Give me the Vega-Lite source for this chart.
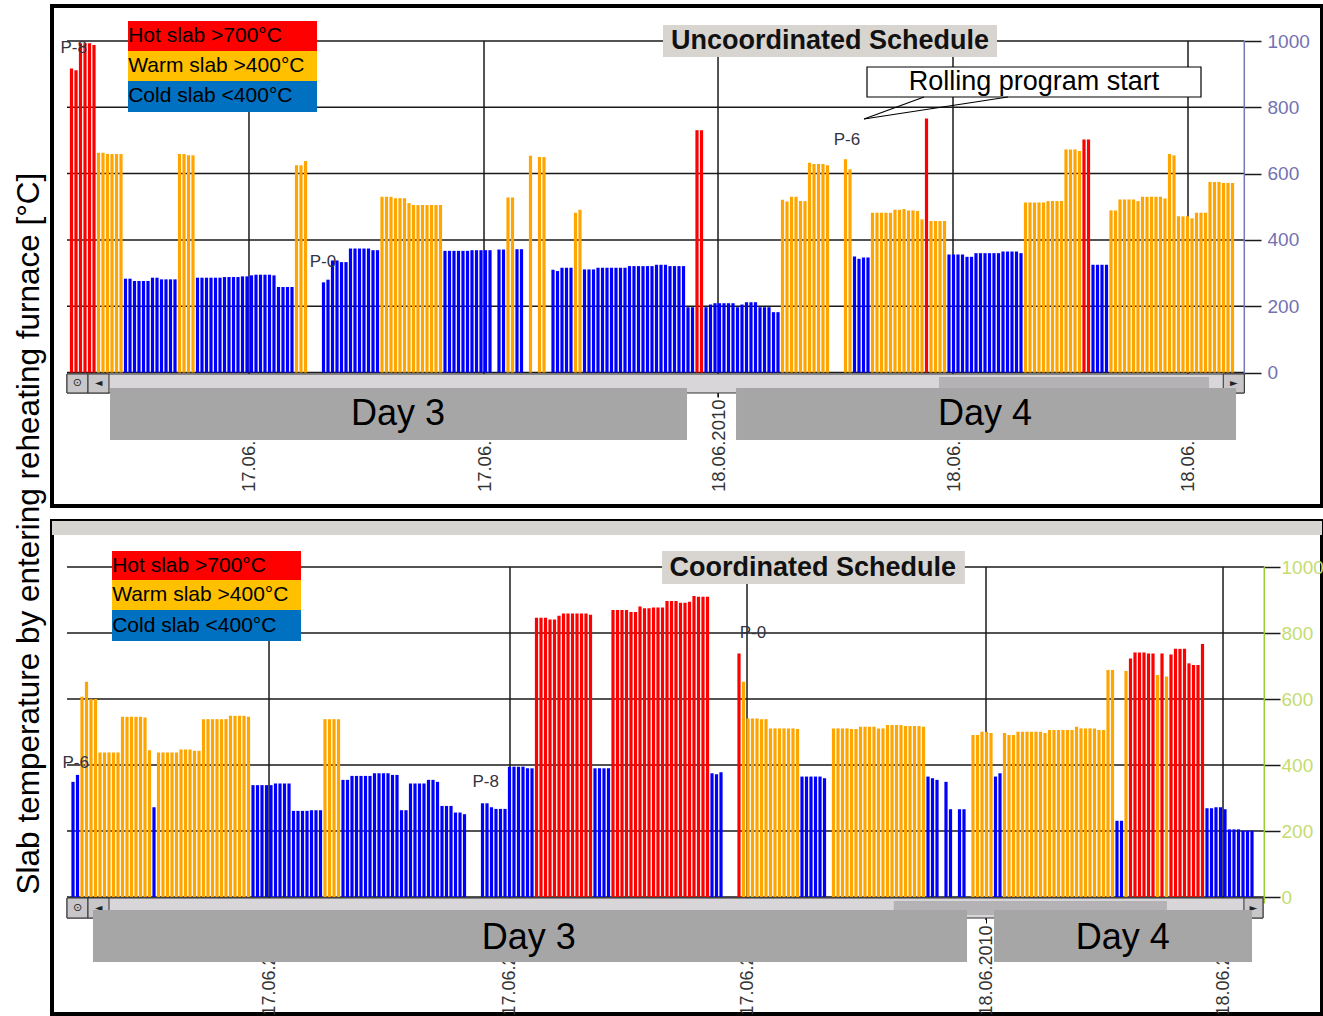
{
"$schema":"https://vega.github.io/schema/vega-lite/v6.json",
"background":"white",
"padding":{"left":13,"top":4,"right":0,"bottom":0},
"title":{"text":"Slab temperature by entering reheating furnace [°C]","orient":"left","anchor":"middle","fontSize":31.5,"fontWeight":"normal","font":"Liberation Sans","color":"#000000","offset":5,"dx":-23},
"config":{"view":{"stroke":"#000000","strokeWidth":4},"font":"Liberation Sans"},
"bounds":"flush",
"spacing":15,
"datasets":{
"top":[
{"n":1,"t":917,"c":"H"},{"n":2,"t":912,"c":"H"},{"n":3,"t":993,"c":"H"},{"n":4,"t":993,"c":"H"},{"n":5,"t":993,"c":"H"},{"n":6,"t":988,"c":"H"},
{"n":7,"t":663,"c":"W"},{"n":8,"t":663,"c":"W"},{"n":9,"t":659,"c":"W"},{"n":10,"t":659,"c":"W"},{"n":11,"t":659,"c":"W"},{"n":12,"t":659,"c":"W"},
{"n":13,"t":283,"c":"C"},{"n":14,"t":283,"c":"C"},{"n":15,"t":276,"c":"C"},{"n":16,"t":276,"c":"C"},{"n":17,"t":276,"c":"C"},{"n":18,"t":276,"c":"C"},{"n":19,"t":286,"c":"C"},{"n":20,"t":286,"c":"C"},{"n":21,"t":281,"c":"C"},{"n":22,"t":281,"c":"C"},{"n":23,"t":281,"c":"C"},{"n":24,"t":281,"c":"C"},
{"n":25,"t":659,"c":"W"},{"n":26,"t":659,"c":"W"},{"n":27,"t":655,"c":"W"},{"n":28,"t":655,"c":"W"},
{"n":29,"t":286,"c":"C"},{"n":30,"t":286,"c":"C"},{"n":31,"t":286,"c":"C"},{"n":32,"t":286,"c":"C"},{"n":33,"t":286,"c":"C"},{"n":34,"t":286,"c":"C"},{"n":35,"t":288,"c":"C"},{"n":36,"t":288,"c":"C"},{"n":37,"t":288,"c":"C"},{"n":38,"t":288,"c":"C"},{"n":39,"t":290,"c":"C"},{"n":40,"t":290,"c":"C"},{"n":41,"t":293,"c":"C"},{"n":42,"t":295,"c":"C"},{"n":43,"t":295,"c":"C"},{"n":44,"t":295,"c":"C"},{"n":45,"t":295,"c":"C"},{"n":46,"t":293,"c":"C"},{"n":47,"t":258,"c":"C"},{"n":48,"t":258,"c":"C"},{"n":49,"t":258,"c":"C"},{"n":50,"t":258,"c":"C"},
{"n":51,"t":625,"c":"W"},{"n":52,"t":625,"c":"W"},{"n":53,"t":638,"c":"W"},
{"n":57,"t":272,"c":"C"},{"n":58,"t":280,"c":"C"},{"n":59,"t":338,"c":"C"},{"n":60,"t":338,"c":"C"},{"n":61,"t":333,"c":"C"},{"n":62,"t":333,"c":"C"},{"n":63,"t":374,"c":"C"},{"n":64,"t":374,"c":"C"},{"n":65,"t":374,"c":"C"},{"n":66,"t":374,"c":"C"},{"n":67,"t":374,"c":"C"},{"n":68,"t":369,"c":"C"},{"n":69,"t":369,"c":"C"},
{"n":70,"t":530,"c":"W"},{"n":71,"t":530,"c":"W"},{"n":72,"t":530,"c":"W"},{"n":73,"t":526,"c":"W"},{"n":74,"t":526,"c":"W"},{"n":75,"t":526,"c":"W"},{"n":76,"t":511,"c":"W"},{"n":77,"t":505,"c":"W"},{"n":78,"t":505,"c":"W"},{"n":79,"t":505,"c":"W"},{"n":80,"t":505,"c":"W"},{"n":81,"t":505,"c":"W"},{"n":82,"t":505,"c":"W"},{"n":83,"t":505,"c":"W"},
{"n":84,"t":367,"c":"C"},{"n":85,"t":367,"c":"C"},{"n":86,"t":367,"c":"C"},{"n":87,"t":367,"c":"C"},{"n":88,"t":367,"c":"C"},{"n":89,"t":367,"c":"C"},{"n":90,"t":369,"c":"C"},{"n":91,"t":369,"c":"C"},{"n":92,"t":369,"c":"C"},{"n":93,"t":369,"c":"C"},{"n":94,"t":369,"c":"C"},{"n":96,"t":371,"c":"C"},{"n":97,"t":371,"c":"C"},
{"n":98,"t":528,"c":"W"},{"n":99,"t":528,"c":"W"},{"n":100,"t":372,"c":"C"},{"n":101,"t":372,"c":"C"},{"n":103,"t":654,"c":"W"},{"n":105,"t":650,"c":"W"},{"n":106,"t":650,"c":"W"},
{"n":108,"t":310,"c":"C"},{"n":109,"t":306,"c":"C"},{"n":110,"t":316,"c":"C"},{"n":111,"t":316,"c":"C"},{"n":112,"t":316,"c":"C"},{"n":113,"t":482,"c":"W"},{"n":114,"t":491,"c":"W"},{"n":115,"t":311,"c":"C"},{"n":116,"t":311,"c":"C"},{"n":117,"t":311,"c":"C"},
{"n":118,"t":316,"c":"C"},{"n":119,"t":316,"c":"C"},{"n":120,"t":316,"c":"C"},{"n":121,"t":316,"c":"C"},{"n":122,"t":316,"c":"C"},{"n":123,"t":316,"c":"C"},{"n":124,"t":316,"c":"C"},{"n":125,"t":321,"c":"C"},{"n":126,"t":321,"c":"C"},{"n":127,"t":321,"c":"C"},{"n":128,"t":321,"c":"C"},{"n":129,"t":321,"c":"C"},{"n":130,"t":321,"c":"C"},{"n":131,"t":325,"c":"C"},{"n":132,"t":325,"c":"C"},{"n":133,"t":325,"c":"C"},{"n":134,"t":321,"c":"C"},{"n":135,"t":321,"c":"C"},{"n":136,"t":321,"c":"C"},{"n":137,"t":321,"c":"C"},{"n":138,"t":197,"c":"C"},{"n":139,"t":197,"c":"C"},
{"n":140,"t":731,"c":"H"},{"n":141,"t":731,"c":"H"},
{"n":142,"t":197,"c":"C"},{"n":143,"t":205,"c":"C"},{"n":144,"t":209,"c":"C"},{"n":145,"t":209,"c":"C"},{"n":146,"t":209,"c":"C"},{"n":147,"t":209,"c":"C"},{"n":148,"t":209,"c":"C"},{"n":149,"t":197,"c":"C"},{"n":150,"t":205,"c":"C"},{"n":151,"t":212,"c":"C"},{"n":152,"t":212,"c":"C"},{"n":153,"t":212,"c":"C"},{"n":154,"t":197,"c":"C"},{"n":155,"t":197,"c":"C"},{"n":156,"t":197,"c":"C"},{"n":157,"t":182,"c":"C"},{"n":158,"t":182,"c":"C"},
{"n":159,"t":521,"c":"W"},{"n":160,"t":516,"c":"W"},{"n":161,"t":530,"c":"W"},{"n":162,"t":530,"c":"W"},{"n":163,"t":517,"c":"W"},{"n":164,"t":517,"c":"W"},{"n":165,"t":633,"c":"W"},{"n":166,"t":629,"c":"W"},{"n":167,"t":629,"c":"W"},{"n":168,"t":629,"c":"W"},{"n":169,"t":625,"c":"W"},
{"n":173,"t":643,"c":"W"},{"n":174,"t":613,"c":"W"},
{"n":175,"t":350,"c":"C"},{"n":176,"t":343,"c":"C"},{"n":177,"t":347,"c":"C"},{"n":178,"t":347,"c":"C"},
{"n":179,"t":482,"c":"W"},{"n":180,"t":482,"c":"W"},{"n":181,"t":482,"c":"W"},{"n":182,"t":482,"c":"W"},{"n":183,"t":482,"c":"W"},{"n":184,"t":491,"c":"W"},{"n":185,"t":491,"c":"W"},{"n":186,"t":493,"c":"W"},{"n":187,"t":489,"c":"W"},{"n":188,"t":489,"c":"W"},{"n":189,"t":487,"c":"W"},{"n":190,"t":462,"c":"W"},
{"n":191,"t":766,"c":"H"},
{"n":192,"t":457,"c":"W"},{"n":193,"t":457,"c":"W"},{"n":194,"t":457,"c":"W"},{"n":195,"t":457,"c":"W"},
{"n":196,"t":356,"c":"C"},{"n":197,"t":356,"c":"C"},{"n":198,"t":356,"c":"C"},{"n":199,"t":356,"c":"C"},{"n":200,"t":349,"c":"C"},{"n":201,"t":349,"c":"C"},{"n":202,"t":360,"c":"C"},{"n":203,"t":360,"c":"C"},{"n":204,"t":360,"c":"C"},{"n":205,"t":360,"c":"C"},{"n":206,"t":360,"c":"C"},{"n":207,"t":360,"c":"C"},{"n":208,"t":365,"c":"C"},{"n":209,"t":365,"c":"C"},{"n":210,"t":365,"c":"C"},{"n":211,"t":365,"c":"C"},{"n":212,"t":360,"c":"C"},
{"n":213,"t":513,"c":"W"},{"n":214,"t":513,"c":"W"},{"n":215,"t":513,"c":"W"},{"n":216,"t":513,"c":"W"},{"n":217,"t":513,"c":"W"},{"n":218,"t":517,"c":"W"},{"n":219,"t":517,"c":"W"},{"n":220,"t":517,"c":"W"},{"n":221,"t":517,"c":"W"},{"n":222,"t":673,"c":"W"},{"n":223,"t":673,"c":"W"},{"n":224,"t":673,"c":"W"},{"n":225,"t":668,"c":"W"},
{"n":226,"t":703,"c":"H"},{"n":227,"t":703,"c":"H"},
{"n":228,"t":325,"c":"C"},{"n":229,"t":325,"c":"C"},{"n":230,"t":325,"c":"C"},{"n":231,"t":325,"c":"C"},
{"n":232,"t":489,"c":"W"},{"n":233,"t":489,"c":"W"},{"n":234,"t":522,"c":"W"},{"n":235,"t":522,"c":"W"},{"n":236,"t":522,"c":"W"},{"n":237,"t":522,"c":"W"},{"n":238,"t":517,"c":"W"},{"n":239,"t":530,"c":"W"},{"n":240,"t":530,"c":"W"},{"n":241,"t":530,"c":"W"},{"n":242,"t":530,"c":"W"},{"n":243,"t":530,"c":"W"},{"n":244,"t":525,"c":"W"},{"n":245,"t":659,"c":"W"},{"n":246,"t":655,"c":"W"},{"n":247,"t":471,"c":"W"},{"n":248,"t":471,"c":"W"},{"n":249,"t":471,"c":"W"},{"n":250,"t":465,"c":"W"},{"n":251,"t":482,"c":"W"},{"n":252,"t":482,"c":"W"},{"n":253,"t":482,"c":"W"},{"n":254,"t":575,"c":"W"},{"n":255,"t":575,"c":"W"},{"n":256,"t":575,"c":"W"},{"n":257,"t":572,"c":"W"},{"n":258,"t":572,"c":"W"},{"n":259,"t":572,"c":"W"}
],
"bottom":[
{"n":1,"t":349,"c":"C"},{"n":2,"t":370,"c":"C"},
{"n":3,"t":607,"c":"W"},{"n":4,"t":652,"c":"W"},{"n":5,"t":600,"c":"W"},{"n":6,"t":600,"c":"W"},
{"n":7,"t":438,"c":"W"},{"n":8,"t":438,"c":"W"},{"n":9,"t":438,"c":"W"},{"n":10,"t":438,"c":"W"},{"n":11,"t":438,"c":"W"},
{"n":12,"t":546,"c":"W"},{"n":13,"t":546,"c":"W"},{"n":14,"t":546,"c":"W"},{"n":15,"t":546,"c":"W"},{"n":16,"t":546,"c":"W"},{"n":17,"t":544,"c":"W"},
{"n":18,"t":445,"c":"W"},{"n":19,"t":272,"c":"C"},
{"n":20,"t":438,"c":"W"},{"n":21,"t":438,"c":"W"},{"n":22,"t":438,"c":"W"},{"n":23,"t":438,"c":"W"},{"n":24,"t":438,"c":"W"},{"n":25,"t":447,"c":"W"},{"n":26,"t":447,"c":"W"},{"n":27,"t":447,"c":"W"},{"n":28,"t":443,"c":"W"},{"n":29,"t":443,"c":"W"},
{"n":30,"t":539,"c":"W"},{"n":31,"t":539,"c":"W"},{"n":32,"t":539,"c":"W"},{"n":33,"t":539,"c":"W"},{"n":34,"t":539,"c":"W"},{"n":35,"t":539,"c":"W"},{"n":36,"t":549,"c":"W"},{"n":37,"t":549,"c":"W"},{"n":38,"t":549,"c":"W"},{"n":39,"t":549,"c":"W"},{"n":40,"t":546,"c":"W"},
{"n":41,"t":339,"c":"C"},{"n":42,"t":339,"c":"C"},{"n":43,"t":339,"c":"C"},{"n":44,"t":339,"c":"C"},{"n":45,"t":339,"c":"C"},{"n":46,"t":344,"c":"C"},{"n":47,"t":344,"c":"C"},{"n":48,"t":344,"c":"C"},{"n":49,"t":344,"c":"C"},
{"n":50,"t":261,"c":"C"},{"n":51,"t":261,"c":"C"},{"n":52,"t":261,"c":"C"},{"n":53,"t":261,"c":"C"},{"n":54,"t":263,"c":"C"},{"n":55,"t":263,"c":"C"},{"n":56,"t":263,"c":"C"},
{"n":57,"t":539,"c":"W"},{"n":58,"t":539,"c":"W"},{"n":59,"t":539,"c":"W"},{"n":60,"t":539,"c":"W"},
{"n":61,"t":355,"c":"C"},{"n":62,"t":355,"c":"C"},{"n":63,"t":367,"c":"C"},{"n":64,"t":367,"c":"C"},{"n":65,"t":367,"c":"C"},{"n":66,"t":367,"c":"C"},{"n":67,"t":367,"c":"C"},{"n":68,"t":375,"c":"C"},{"n":69,"t":375,"c":"C"},{"n":70,"t":375,"c":"C"},{"n":71,"t":375,"c":"C"},{"n":72,"t":370,"c":"C"},{"n":73,"t":370,"c":"C"},{"n":74,"t":263,"c":"C"},{"n":75,"t":263,"c":"C"},{"n":76,"t":344,"c":"C"},{"n":77,"t":344,"c":"C"},{"n":78,"t":344,"c":"C"},{"n":79,"t":344,"c":"C"},{"n":80,"t":355,"c":"C"},{"n":81,"t":355,"c":"C"},{"n":82,"t":349,"c":"C"},{"n":83,"t":276,"c":"C"},{"n":84,"t":276,"c":"C"},{"n":85,"t":276,"c":"C"},{"n":86,"t":256,"c":"C"},{"n":87,"t":256,"c":"C"},{"n":88,"t":251,"c":"C"},
{"n":92,"t":284,"c":"C"},{"n":93,"t":284,"c":"C"},{"n":94,"t":272,"c":"C"},{"n":95,"t":267,"c":"C"},{"n":96,"t":267,"c":"C"},{"n":97,"t":267,"c":"C"},
{"n":98,"t":395,"c":"C"},{"n":99,"t":395,"c":"C"},{"n":100,"t":395,"c":"C"},{"n":101,"t":395,"c":"C"},{"n":102,"t":390,"c":"C"},{"n":103,"t":390,"c":"C"},
{"n":104,"t":846,"c":"H"},{"n":105,"t":846,"c":"H"},{"n":106,"t":846,"c":"H"},{"n":107,"t":841,"c":"H"},{"n":108,"t":841,"c":"H"},{"n":109,"t":852,"c":"H"},{"n":110,"t":859,"c":"H"},{"n":111,"t":859,"c":"H"},{"n":112,"t":859,"c":"H"},{"n":113,"t":859,"c":"H"},{"n":114,"t":859,"c":"H"},{"n":115,"t":859,"c":"H"},{"n":116,"t":855,"c":"H"},
{"n":117,"t":390,"c":"C"},{"n":118,"t":390,"c":"C"},{"n":119,"t":390,"c":"C"},{"n":120,"t":390,"c":"C"},
{"n":121,"t":870,"c":"H"},{"n":122,"t":870,"c":"H"},{"n":123,"t":870,"c":"H"},{"n":124,"t":870,"c":"H"},{"n":125,"t":864,"c":"H"},{"n":126,"t":864,"c":"H"},{"n":127,"t":880,"c":"H"},{"n":128,"t":875,"c":"H"},{"n":129,"t":875,"c":"H"},{"n":130,"t":877,"c":"H"},{"n":131,"t":877,"c":"H"},{"n":132,"t":877,"c":"H"},{"n":133,"t":897,"c":"H"},{"n":134,"t":897,"c":"H"},{"n":135,"t":897,"c":"H"},{"n":136,"t":892,"c":"H"},{"n":137,"t":892,"c":"H"},{"n":138,"t":895,"c":"H"},{"n":139,"t":912,"c":"H"},{"n":140,"t":910,"c":"H"},{"n":141,"t":910,"c":"H"},{"n":142,"t":910,"c":"H"},
{"n":143,"t":375,"c":"C"},{"n":144,"t":372,"c":"C"},{"n":145,"t":378,"c":"C"},
{"n":149,"t":738,"c":"H"},{"n":150,"t":652,"c":"W"},
{"n":151,"t":541,"c":"W"},{"n":152,"t":541,"c":"W"},{"n":153,"t":541,"c":"W"},{"n":154,"t":539,"c":"W"},{"n":155,"t":539,"c":"W"},
{"n":156,"t":511,"c":"W"},{"n":157,"t":511,"c":"W"},{"n":158,"t":511,"c":"W"},{"n":159,"t":511,"c":"W"},{"n":160,"t":511,"c":"W"},{"n":161,"t":511,"c":"W"},{"n":162,"t":509,"c":"W"},
{"n":163,"t":365,"c":"C"},{"n":164,"t":365,"c":"C"},{"n":165,"t":365,"c":"C"},{"n":166,"t":365,"c":"C"},{"n":167,"t":365,"c":"C"},{"n":168,"t":360,"c":"C"},
{"n":170,"t":511,"c":"W"},{"n":171,"t":511,"c":"W"},{"n":172,"t":511,"c":"W"},{"n":173,"t":511,"c":"W"},{"n":174,"t":509,"c":"W"},{"n":175,"t":509,"c":"W"},{"n":176,"t":516,"c":"W"},{"n":177,"t":516,"c":"W"},{"n":178,"t":516,"c":"W"},{"n":179,"t":516,"c":"W"},{"n":180,"t":511,"c":"W"},{"n":181,"t":511,"c":"W"},{"n":182,"t":521,"c":"W"},{"n":183,"t":521,"c":"W"},{"n":184,"t":521,"c":"W"},{"n":185,"t":521,"c":"W"},{"n":186,"t":518,"c":"W"},{"n":187,"t":518,"c":"W"},{"n":188,"t":518,"c":"W"},{"n":189,"t":518,"c":"W"},{"n":190,"t":516,"c":"W"},
{"n":191,"t":365,"c":"C"},{"n":192,"t":360,"c":"C"},{"n":193,"t":355,"c":"C"},{"n":195,"t":349,"c":"C"},{"n":196,"t":266,"c":"C"},{"n":198,"t":266,"c":"C"},{"n":199,"t":266,"c":"C"},
{"n":201,"t":491,"c":"W"},{"n":202,"t":491,"c":"W"},{"n":203,"t":501,"c":"W"},{"n":204,"t":501,"c":"W"},{"n":205,"t":497,"c":"W"},
{"n":206,"t":365,"c":"C"},{"n":207,"t":375,"c":"C"},
{"n":208,"t":497,"c":"W"},{"n":209,"t":491,"c":"W"},{"n":210,"t":491,"c":"W"},{"n":211,"t":501,"c":"W"},{"n":212,"t":501,"c":"W"},{"n":213,"t":501,"c":"W"},{"n":214,"t":501,"c":"W"},{"n":215,"t":501,"c":"W"},{"n":216,"t":501,"c":"W"},{"n":217,"t":497,"c":"W"},{"n":218,"t":506,"c":"W"},{"n":219,"t":506,"c":"W"},{"n":220,"t":506,"c":"W"},{"n":221,"t":506,"c":"W"},{"n":222,"t":506,"c":"W"},{"n":223,"t":506,"c":"W"},{"n":224,"t":516,"c":"W"},{"n":225,"t":511,"c":"W"},{"n":226,"t":511,"c":"W"},{"n":227,"t":511,"c":"W"},{"n":228,"t":511,"c":"W"},{"n":229,"t":506,"c":"W"},{"n":230,"t":506,"c":"W"},
{"n":231,"t":688,"c":"W"},{"n":232,"t":688,"c":"W"},{"n":233,"t":231,"c":"C"},{"n":234,"t":231,"c":"C"},{"n":235,"t":685,"c":"W"},
{"n":236,"t":723,"c":"H"},{"n":237,"t":741,"c":"H"},{"n":238,"t":741,"c":"H"},{"n":239,"t":741,"c":"H"},{"n":240,"t":738,"c":"H"},{"n":241,"t":738,"c":"H"},
{"n":242,"t":673,"c":"W"},{"n":243,"t":738,"c":"H"},{"n":244,"t":668,"c":"W"},
{"n":245,"t":735,"c":"H"},{"n":246,"t":752,"c":"H"},{"n":247,"t":752,"c":"H"},{"n":248,"t":752,"c":"H"},{"n":249,"t":708,"c":"H"},{"n":250,"t":703,"c":"H"},{"n":251,"t":703,"c":"H"},{"n":252,"t":767,"c":"H"},
{"n":253,"t":269,"c":"C"},{"n":254,"t":269,"c":"C"},{"n":255,"t":272,"c":"C"},{"n":256,"t":272,"c":"C"},{"n":257,"t":266,"c":"C"},
{"n":258,"t":205,"c":"C"},{"n":259,"t":205,"c":"C"},{"n":260,"t":205,"c":"C"},{"n":261,"t":201,"c":"C"},{"n":262,"t":201,"c":"C"},{"n":263,"t":201,"c":"C"}
]
},
"vconcat":[
{
"width":1270,"height":500,
"layer":[
{"data":{"values":[{"g":0},{"g":200},{"g":400},{"g":600},{"g":800},{"g":1000}]},"mark":{"type":"rule","color":"#1a1a1a","strokeWidth":1.5},"encoding":{"y":{"field":"g","type":"quantitative"},"x":{"datum":0},"x2":{"datum":261.62}}},
{"data":{"values":[{"d":40.44},{"d":92.67},{"d":144.67},{"d":196.89},{"d":249.11}]},"mark":{"type":"rule","color":"#1a1a1a","strokeWidth":1.5},"encoding":{"x":{"field":"d","type":"quantitative"},"y":{"datum":-75},"y2":{"datum":1000}}},
{"data":{"values":[{}]},"mark":{"type":"rule","color":"#7a78b4","strokeWidth":1.5},"encoding":{"x":{"datum":261.62},"y":{"datum":-20},"y2":{"datum":1000}}},
{"data":{"name":"top"},"mark":{"type":"rule","strokeWidth":3.2},"encoding":{
"x":{"field":"n","type":"quantitative","scale":{"domain":[-3.333,278.889],"nice":false,"zero":false},"axis":{"orient":"bottom","offset":-114,"values":[40.44,92.67,144.67,196.89,249.11],"labelExpr":"datum.value < 140 ? '17.06.2010' : '18.06.2010'","labelAngle":-90,"labelAlign":"right","labelBaseline":"middle","domain":false,"grid":false,"ticks":true,"tickSize":5,"tickColor":"#000000","labelPadding":2,"labelFontSize":18.5,"labelColor":"#333333","labelFont":"Liberation Sans","labelOverlap":false,"labelFlush":false,"labelBound":false,"title":null}},
"y":{"field":"t","type":"quantitative","scale":{"domain":[-402.7,1105.6],"nice":false,"zero":false},"axis":{"orient":"right","offset":-78,"values":[0,200,400,600,800,1000],"format":"d","domain":false,"grid":false,"ticks":true,"tickSize":17,"tickColor":"#1a1a1a","tickWidth":1.5,"labelPadding":6,"labelFontSize":19,"labelColor":"#7272b2","labelFont":"Liberation Sans","title":null}},
"y2":{"datum":0},
"color":{"field":"c","type":"nominal","scale":{"domain":["H","W","C"],"range":["#ff0000","#ffa500","#0000ff"]},"legend":null}}},
{"data":{"values":[{}]},"mark":{"type":"rect","fill":"#d8d6d8","stroke":"#303030","strokeWidth":1},"encoding":{"x":{"datum":0},"x2":{"datum":261.62},"y":{"datum":-4.5},"y2":{"datum":-61.8}}},
{"data":{"values":[{}]},"mark":{"type":"rect","fill":"#b4b2b4"},"encoding":{"x":{"datum":193.78},"x2":{"datum":253.78},"y":{"datum":-13.6},"y2":{"datum":-52.8}}},
{"data":{"values":[{}]},"mark":{"type":"rect","fill":"#c8c6c8","stroke":"#303030","strokeWidth":1},"encoding":{"x":{"datum":0},"x2":{"datum":4.67},"y":{"datum":-4.5},"y2":{"datum":-61.8}}},
{"data":{"values":[{}]},"mark":{"type":"rect","fill":"#c8c6c8","stroke":"#303030","strokeWidth":1},"encoding":{"x":{"datum":4.67},"x2":{"datum":9.33},"y":{"datum":-4.5},"y2":{"datum":-61.8}}},
{"data":{"values":[{}]},"mark":{"type":"rect","fill":"#c8c6c8","stroke":"#303030","strokeWidth":1},"encoding":{"x":{"datum":256.95},"x2":{"datum":261.62},"y":{"datum":-4.5},"y2":{"datum":-61.8}}},
{"data":{"values":[{}]},"mark":{"type":"text","text":"⊙","font":"DejaVu Sans","fontSize":11,"align":"center","baseline":"middle","color":"#222222"},"encoding":{"x":{"datum":2.33},"y":{"datum":-33}}},
{"data":{"values":[{}]},"mark":{"type":"text","text":"◄","font":"DejaVu Sans","fontSize":10,"align":"center","baseline":"middle","color":"#222222"},"encoding":{"x":{"datum":7},"y":{"datum":-33}}},
{"data":{"values":[{}]},"mark":{"type":"text","text":"►","font":"DejaVu Sans","fontSize":10,"align":"center","baseline":"middle","color":"#222222"},"encoding":{"x":{"datum":259.3},"y":{"datum":-33}}},
{"data":{"values":[{}]},"mark":{"type":"rect","fill":"#a6a6a6"},"encoding":{"x":{"datum":9.56},"x2":{"datum":137.78},"y":{"datum":-46.8},"y2":{"datum":-203.6}}},
{"data":{"values":[{}]},"mark":{"type":"rect","fill":"#a6a6a6"},"encoding":{"x":{"datum":148.67},"x2":{"datum":259.78},"y":{"datum":-46.8},"y2":{"datum":-203.6}}},
{"data":{"values":[{}]},"mark":{"type":"text","text":"Day 3","font":"Liberation Sans","fontSize":36,"align":"center","baseline":"middle","color":"#000000"},"encoding":{"x":{"datum":73.56},"y":{"datum":-125.2}}},
{"data":{"values":[{}]},"mark":{"type":"text","text":"Day 4","font":"Liberation Sans","fontSize":36,"align":"center","baseline":"middle","color":"#000000"},"encoding":{"x":{"datum":204},"y":{"datum":-125.2}}},
{"data":{"values":[{}]},"mark":{"type":"rect","fill":"#ff0000"},"encoding":{"x":{"datum":13.56},"x2":{"datum":55.56},"y":{"datum":969.8},"y2":{"datum":1060.3}}},
{"data":{"values":[{}]},"mark":{"type":"rect","fill":"#ffc000"},"encoding":{"x":{"datum":13.56},"x2":{"datum":55.56},"y":{"datum":879.3},"y2":{"datum":969.8}}},
{"data":{"values":[{}]},"mark":{"type":"rect","fill":"#0070c0"},"encoding":{"x":{"datum":13.56},"x2":{"datum":55.56},"y":{"datum":785.8},"y2":{"datum":879.3}}},
{"data":{"values":[{}]},"mark":{"type":"text","text":"Hot slab >700°C","font":"Liberation Sans","fontSize":21,"align":"left","baseline":"middle","color":"#000000"},"encoding":{"x":{"datum":13.6},"y":{"datum":1015.1}}},
{"data":{"values":[{}]},"mark":{"type":"text","text":"Warm slab >400°C","font":"Liberation Sans","fontSize":21,"align":"left","baseline":"middle","color":"#000000"},"encoding":{"x":{"datum":13.6},"y":{"datum":924.6}}},
{"data":{"values":[{}]},"mark":{"type":"text","text":"Cold slab <400°C","font":"Liberation Sans","fontSize":21,"align":"left","baseline":"middle","color":"#000000"},"encoding":{"x":{"datum":13.6},"y":{"datum":832.6}}},
{"data":{"values":[{}]},"mark":{"type":"rect","fill":"#d8d5d0"},"encoding":{"x":{"datum":132.44},"x2":{"datum":206.67},"y":{"datum":951.7},"y2":{"datum":1048.3}}},
{"data":{"values":[{}]},"mark":{"type":"text","text":"Uncoordinated Schedule","font":"Liberation Sans","fontSize":27,"fontWeight":"bold","align":"center","baseline":"middle","color":"#111111"},"encoding":{"x":{"datum":169.56},"y":{"datum":1000}}},
{"data":{"values":[{}]},"mark":{"type":"rect","fill":"#ffffff","stroke":"#000000","strokeWidth":1.2},"encoding":{"x":{"datum":177.78},"x2":{"datum":252},"y":{"datum":831.1},"y2":{"datum":921.6}}},
{"data":{"values":[{}]},"mark":{"type":"text","text":"Rolling program start","font":"Liberation Sans","fontSize":27,"align":"center","baseline":"middle","color":"#000000"},"encoding":{"x":{"datum":214.89},"y":{"datum":876.3}}},
{"data":{"values":[{}]},"mark":{"type":"rule","color":"#000000","strokeWidth":1.2},"encoding":{"x":{"datum":190.44},"y":{"datum":831.1},"x2":{"datum":177.11},"y2":{"datum":764.7}}},
{"data":{"values":[{}]},"mark":{"type":"rule","color":"#000000","strokeWidth":1.2},"encoding":{"x":{"datum":209.11},"y":{"datum":831.1},"x2":{"datum":177.11},"y2":{"datum":764.7}}},
{"data":{"values":[{}]},"mark":{"type":"text","text":"P-8","font":"Liberation Sans","fontSize":17,"align":"center","baseline":"middle","color":"#333344"},"encoding":{"x":{"datum":1.5},"y":{"datum":978.9}}},
{"data":{"values":[{}]},"mark":{"type":"text","text":"P-0","font":"Liberation Sans","fontSize":17,"align":"center","baseline":"middle","color":"#333344"},"encoding":{"x":{"datum":56.89},"y":{"datum":333.3}}},
{"data":{"values":[{}]},"mark":{"type":"text","text":"P-6","font":"Liberation Sans","fontSize":17,"align":"center","baseline":"middle","color":"#333344"},"encoding":{"x":{"datum":173.33},"y":{"datum":701.4}}}
]
},
{
"width":1270,"height":493,
"layer":[
{"data":{"values":[{}]},"mark":{"type":"rect","fill":"#d6d4d0"},"encoding":{"x":{"datum":-3.667},"x2":{"datum":278.556},"y":{"datum":1097},"y2":{"datum":1139.4}}},
{"data":{"values":[{"g":0},{"g":200},{"g":400},{"g":600},{"g":800},{"g":1000}]},"mark":{"type":"rule","color":"#1a1a1a","strokeWidth":1.5},"encoding":{"y":{"field":"g","type":"quantitative"},"x":{"datum":-0.33},"x2":{"datum":265.73}}},
{"data":{"values":[{"d":44.56},{"d":98.11},{"d":150.78},{"d":203.89},{"d":256.56}]},"mark":{"type":"rule","color":"#1a1a1a","strokeWidth":1.5},"encoding":{"x":{"field":"d","type":"quantitative"},"y":{"datum":-70},"y2":{"datum":1000}}},
{"data":{"values":[{}]},"mark":{"type":"rule","color":"#9acd32","strokeWidth":1.5},"encoding":{"x":{"datum":265.73},"y":{"datum":-20},"y2":{"datum":1000}}},
{"data":{"name":"bottom"},"mark":{"type":"rule","strokeWidth":3.2},"encoding":{
"x":{"field":"n","type":"quantitative","scale":{"domain":[-3.667,278.556],"nice":false,"zero":false},"axis":{"orient":"bottom","offset":-96,"values":[44.56,98.11,150.78,203.89,256.56],"labelExpr":"datum.value < 200 ? '17.06.2010' : '18.06.2010'","labelAngle":-90,"labelAlign":"right","labelBaseline":"middle","domain":false,"grid":false,"ticks":true,"tickSize":5,"tickColor":"#000000","labelPadding":2,"labelFontSize":18,"labelColor":"#333333","labelFont":"Liberation Sans","labelOverlap":false,"labelFlush":false,"labelBound":false,"title":null}},
"y":{"field":"t","type":"quantitative","scale":{"domain":[-354.5,1139.4],"nice":false,"zero":false},"axis":{"orient":"right","offset":-58,"values":[0,200,400,600,800,1000],"format":"d","domain":false,"grid":false,"ticks":true,"tickSize":16,"tickColor":"#1a1a1a","tickWidth":1.5,"labelPadding":1,"labelFontSize":19,"labelColor":"#c4dc70","labelFont":"Liberation Sans","title":null}},
"y2":{"datum":0},
"color":{"field":"c","type":"nominal","scale":{"domain":["H","W","C"],"range":["#ff0000","#ffa500","#0000ff"]},"legend":null}}},
{"data":{"values":[{}]},"mark":{"type":"rect","fill":"#d8d6d8","stroke":"#303030","strokeWidth":1},"encoding":{"x":{"datum":-0.33},"x2":{"datum":265.44},"y":{"datum":-3},"y2":{"datum":-63.6}}},
{"data":{"values":[{}]},"mark":{"type":"rect","fill":"#b4b2b4"},"encoding":{"x":{"datum":183.4},"x2":{"datum":244.1},"y":{"datum":-12},"y2":{"datum":-54.5}}},
{"data":{"values":[{}]},"mark":{"type":"rect","fill":"#c8c6c8","stroke":"#303030","strokeWidth":1},"encoding":{"x":{"datum":-0.33},"x2":{"datum":4.33},"y":{"datum":-3},"y2":{"datum":-63.6}}},
{"data":{"values":[{}]},"mark":{"type":"rect","fill":"#c8c6c8","stroke":"#303030","strokeWidth":1},"encoding":{"x":{"datum":4.33},"x2":{"datum":9},"y":{"datum":-3},"y2":{"datum":-63.6}}},
{"data":{"values":[{}]},"mark":{"type":"rect","fill":"#c8c6c8","stroke":"#303030","strokeWidth":1},"encoding":{"x":{"datum":261.2},"x2":{"datum":265.44},"y":{"datum":-3},"y2":{"datum":-63.6}}},
{"data":{"values":[{}]},"mark":{"type":"text","text":"⊙","font":"DejaVu Sans","fontSize":11,"align":"center","baseline":"middle","color":"#222222"},"encoding":{"x":{"datum":2},"y":{"datum":-33}}},
{"data":{"values":[{}]},"mark":{"type":"text","text":"◄","font":"DejaVu Sans","fontSize":10,"align":"center","baseline":"middle","color":"#222222"},"encoding":{"x":{"datum":6.67},"y":{"datum":-33}}},
{"data":{"values":[{}]},"mark":{"type":"text","text":"►","font":"DejaVu Sans","fontSize":10,"align":"center","baseline":"middle","color":"#222222"},"encoding":{"x":{"datum":263.3},"y":{"datum":-33}}},
{"data":{"values":[{}]},"mark":{"type":"rect","fill":"#a6a6a6"},"encoding":{"x":{"datum":5.44},"x2":{"datum":199.67},"y":{"datum":-39.4},"y2":{"datum":-197}}},
{"data":{"values":[{}]},"mark":{"type":"rect","fill":"#a6a6a6"},"encoding":{"x":{"datum":205.67},"x2":{"datum":263},"y":{"datum":-39.4},"y2":{"datum":-197}}},
{"data":{"values":[{}]},"mark":{"type":"text","text":"Day 3","font":"Liberation Sans","fontSize":36,"align":"center","baseline":"middle","color":"#000000"},"encoding":{"x":{"datum":102.3},"y":{"datum":-124.2}}},
{"data":{"values":[{}]},"mark":{"type":"text","text":"Day 4","font":"Liberation Sans","fontSize":36,"align":"center","baseline":"middle","color":"#000000"},"encoding":{"x":{"datum":234.3},"y":{"datum":-124.2}}},
{"data":{"values":[{}]},"mark":{"type":"rect","fill":"#ff0000"},"encoding":{"x":{"datum":9.67},"x2":{"datum":51.67},"y":{"datum":960.6},"y2":{"datum":1048.5}}},
{"data":{"values":[{}]},"mark":{"type":"rect","fill":"#ffc000"},"encoding":{"x":{"datum":9.67},"x2":{"datum":51.67},"y":{"datum":869.7},"y2":{"datum":960.6}}},
{"data":{"values":[{}]},"mark":{"type":"rect","fill":"#0070c0"},"encoding":{"x":{"datum":9.67},"x2":{"datum":51.67},"y":{"datum":775.8},"y2":{"datum":869.7}}},
{"data":{"values":[{}]},"mark":{"type":"text","text":"Hot slab >700°C","font":"Liberation Sans","fontSize":21,"align":"left","baseline":"middle","color":"#000000"},"encoding":{"x":{"datum":9.7},"y":{"datum":1004.5}}},
{"data":{"values":[{}]},"mark":{"type":"text","text":"Warm slab >400°C","font":"Liberation Sans","fontSize":21,"align":"left","baseline":"middle","color":"#000000"},"encoding":{"x":{"datum":9.7},"y":{"datum":915.2}}},
{"data":{"values":[{}]},"mark":{"type":"text","text":"Cold slab <400°C","font":"Liberation Sans","fontSize":21,"align":"left","baseline":"middle","color":"#000000"},"encoding":{"x":{"datum":9.7},"y":{"datum":822.7}}},
{"data":{"values":[{}]},"mark":{"type":"rect","fill":"#d8d5d0"},"encoding":{"x":{"datum":131.9},"x2":{"datum":199.2},"y":{"datum":948.5},"y2":{"datum":1048.5}}},
{"data":{"values":[{}]},"mark":{"type":"text","text":"Coordinated Schedule","font":"Liberation Sans","fontSize":27,"fontWeight":"bold","align":"center","baseline":"middle","color":"#111111"},"encoding":{"x":{"datum":165.4},"y":{"datum":997}}},
{"data":{"values":[{}]},"mark":{"type":"text","text":"P-6","font":"Liberation Sans","fontSize":17,"align":"center","baseline":"middle","color":"#333344"},"encoding":{"x":{"datum":1.6},"y":{"datum":406}}},
{"data":{"values":[{}]},"mark":{"type":"text","text":"P-8","font":"Liberation Sans","fontSize":17,"align":"center","baseline":"middle","color":"#333344"},"encoding":{"x":{"datum":92.7},"y":{"datum":348.5}}},
{"data":{"values":[{}]},"mark":{"type":"text","text":"P-0","font":"Liberation Sans","fontSize":17,"align":"center","baseline":"middle","color":"#333344"},"encoding":{"x":{"datum":152.1},"y":{"datum":800}}}
]
}
]
}
